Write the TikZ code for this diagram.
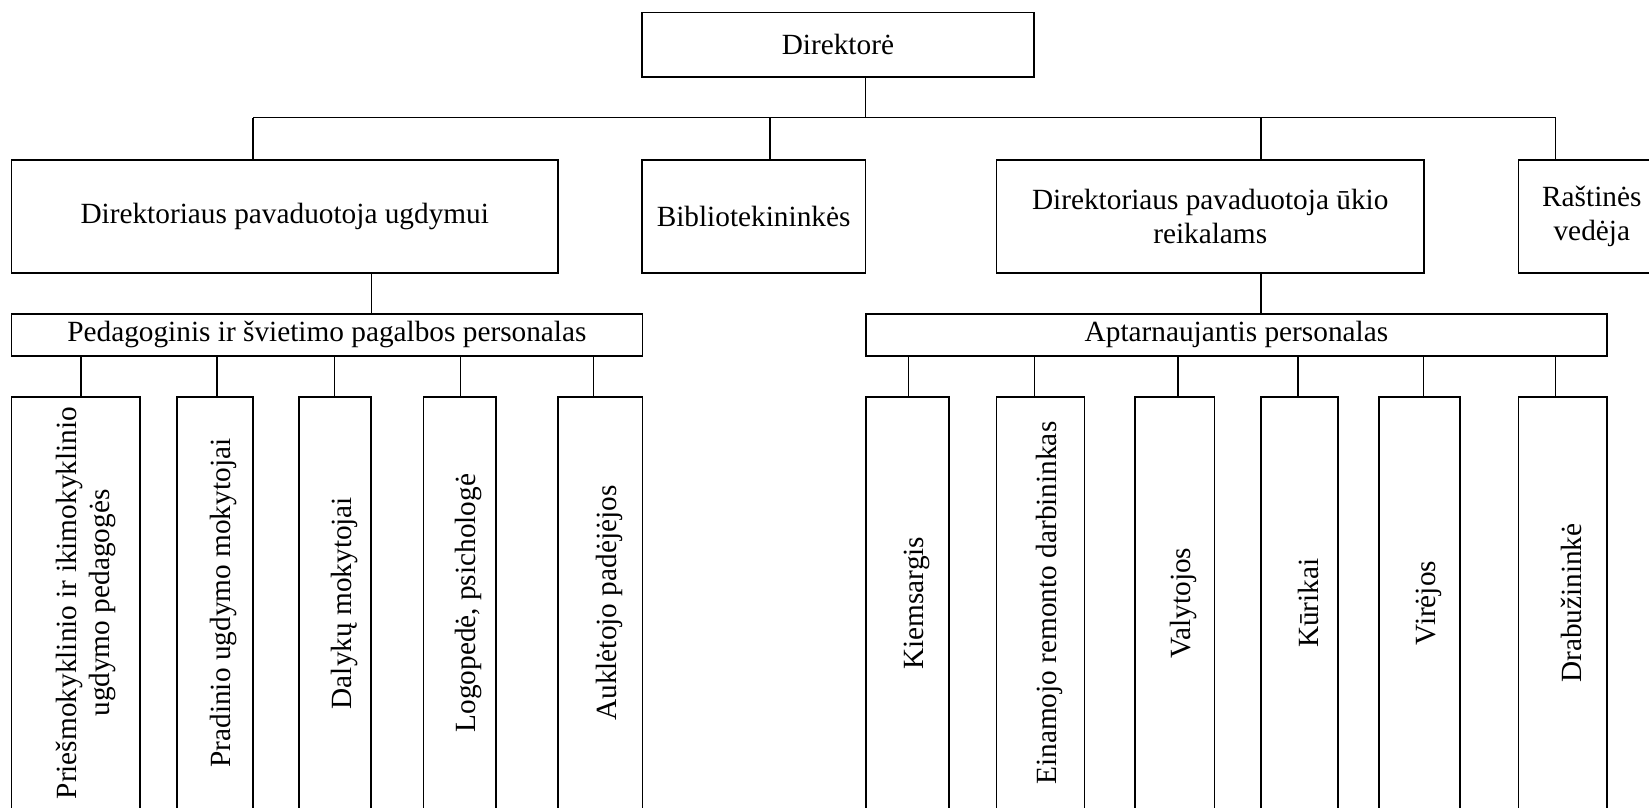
\documentclass[tikz,border=0pt]{standalone}
\usepackage{fontspec}
\setmainfont{Liberation Serif}
\begin{document}
\begin{tikzpicture}[x=1pt,y=-1pt,
  box/.style={draw,line width=1.6pt,inner sep=0pt,outer sep=0pt,align=center,
    font=\fontsize{29.3}{33.7}\selectfont},
  vbox/.style={draw,line width=1.6pt,inner sep=0pt,outer sep=0pt,minimum height=412.8pt},
  vtext/.style={rotate=90,align=center,inner sep=0pt,font=\fontsize{29.3}{33.7}\selectfont},
  conn/.style={line width=1.1pt}]
\fill[white] (0,0) rectangle (1649,808);
\useasboundingbox (0,0) rectangle (1649,808);
\clip (0,0) rectangle (1649,808);
% top
\node[box,minimum width=392.4pt,minimum height=64.3pt] (dir) at (837.9,44.85) {Direktorė};
% level 2
\node[box,minimum width=546.5pt,minimum height=113.3pt] (ugd) at (284.75,216.35) {Direktoriaus pavaduotoja ugdymui};
\node[box,minimum width=223.8pt,minimum height=113.3pt] (bib) at (753.6,216.35) {Bibliotekininkės};
\node[box,minimum width=427.2pt,minimum height=113.3pt] (uk) at (1210.2,216.35) {Direktoriaus pavaduotoja ūkio\\reikalams};
\node[box,minimum width=146.4pt,minimum height=113.3pt] (ras) at (1591.8,216.35) {Raštinės\\vedėja};
% level 3
\node[box,minimum width=630.8pt,minimum height=42.3pt] (ped) at (326.9,334.85) {Pedagoginis ir švietimo pagalbos personalas};
\node[box,minimum width=740.9pt,minimum height=42.3pt] (apt) at (1236.45,334.85) {Aptarnaujantis personalas};
% level 4 boxes
\node[vbox,minimum width=128.7pt] (p1) at (75.85,603.1) {};
\node[vbox,minimum width=76.3pt] (p2) at (214.95,603.1) {};
\node[vbox,minimum width=71.6pt] (p3) at (335,603.1) {};
\node[vbox,minimum width=72.2pt] (p4) at (459.7,603.1) {};
\node[vbox,minimum width=84.3pt] (p5) at (600.15,603.1) {};
\node[vbox,minimum width=83pt] (a1) at (907.5,603.1) {};
\node[vbox,minimum width=87.8pt] (a2) at (1040.5,603.1) {};
\node[vbox,minimum width=79.3pt] (a3) at (1174.85,603.1) {};
\node[vbox,minimum width=76.7pt] (a4) at (1299.35,603.1) {};
\node[vbox,minimum width=81pt] (a5) at (1419.5,603.1) {};
\node[vbox,minimum width=88.3pt] (a6) at (1562.75,603.1) {};
% level 4 texts
\node[vtext] (p1t) at ([xshift=10pt]p1.center) {Priešmokyklinio ir ikimokyklinio\\ugdymo pedagogės};
\node[vtext] (p2t) at ([xshift=9pt]p2.center) {Pradinio ugdymo mokytojai};
\node[vtext] (p3t) at ([xshift=9pt]p3.center) {Dalykų mokytojai};
\node[vtext] (p4t) at ([xshift=9pt]p4.center) {Logopedė, psichologė};
\node[vtext] (p5t) at ([xshift=9pt]p5.center) {Auklėtojo padėjėjos};
\node[vtext] (a1t) at ([xshift=9pt]a1.center) {Kiemsargis};
\node[vtext] (a2t) at ([xshift=9pt]a2.center) {Einamojo remonto darbininkas};
\node[vtext] (a3t) at ([xshift=9pt]a3.center) {Valytojos};
\node[vtext] (a4t) at ([xshift=9pt]a4.center) {Kūrikai};
\node[vtext] (a5t) at ([xshift=9pt]a5.center) {Virėjos};
\node[vtext] (a6t) at ([xshift=9pt]a6.center) {Drabužininkė};
% connectors
\coordinate (jd) at (865.5,117.7);
\coordinate (busL) at (253,117.7);
\coordinate (busR) at (1555.6,117.7);
\draw[conn] (jd |- dir.south) -- (jd);
\draw[conn] (busL) -- (busR);
\draw[conn] (busL) -- (busL |- ugd.north);
\draw[conn] (770,117.7) -- (770,117.7 |- bib.north);
\draw[conn] (1261,117.7) -- (1261,117.7 |- uk.north);
\draw[conn] (busR) -- (busR |- ras.north);
\draw[conn] (371.3,0 |- ugd.south) -- (371.3,0 |- ped.north);
\draw[conn] (1261,0 |- uk.south) -- (1261,0 |- apt.north);
\draw[conn] (81,0 |- ped.south) -- (81,0 |- p1.north);
\draw[conn] (217,0 |- ped.south) -- (217,0 |- p2.north);
\draw[conn] (334.7,0 |- ped.south) -- (334.7,0 |- p3.north);
\draw[conn] (460.2,0 |- ped.south) -- (460.2,0 |- p4.north);
\draw[conn] (593.6,0 |- ped.south) -- (593.6,0 |- p5.north);
\draw[conn] (908.3,0 |- apt.south) -- (908.3,0 |- a1.north);
\draw[conn] (1034.2,0 |- apt.south) -- (1034.2,0 |- a2.north);
\draw[conn] (1178,0 |- apt.south) -- (1178,0 |- a3.north);
\draw[conn] (1298,0 |- apt.south) -- (1298,0 |- a4.north);
\draw[conn] (1423.9,0 |- apt.south) -- (1423.9,0 |- a5.north);
\draw[conn] (1555.6,0 |- apt.south) -- (1555.6,0 |- a6.north);
\end{tikzpicture}
\end{document}
